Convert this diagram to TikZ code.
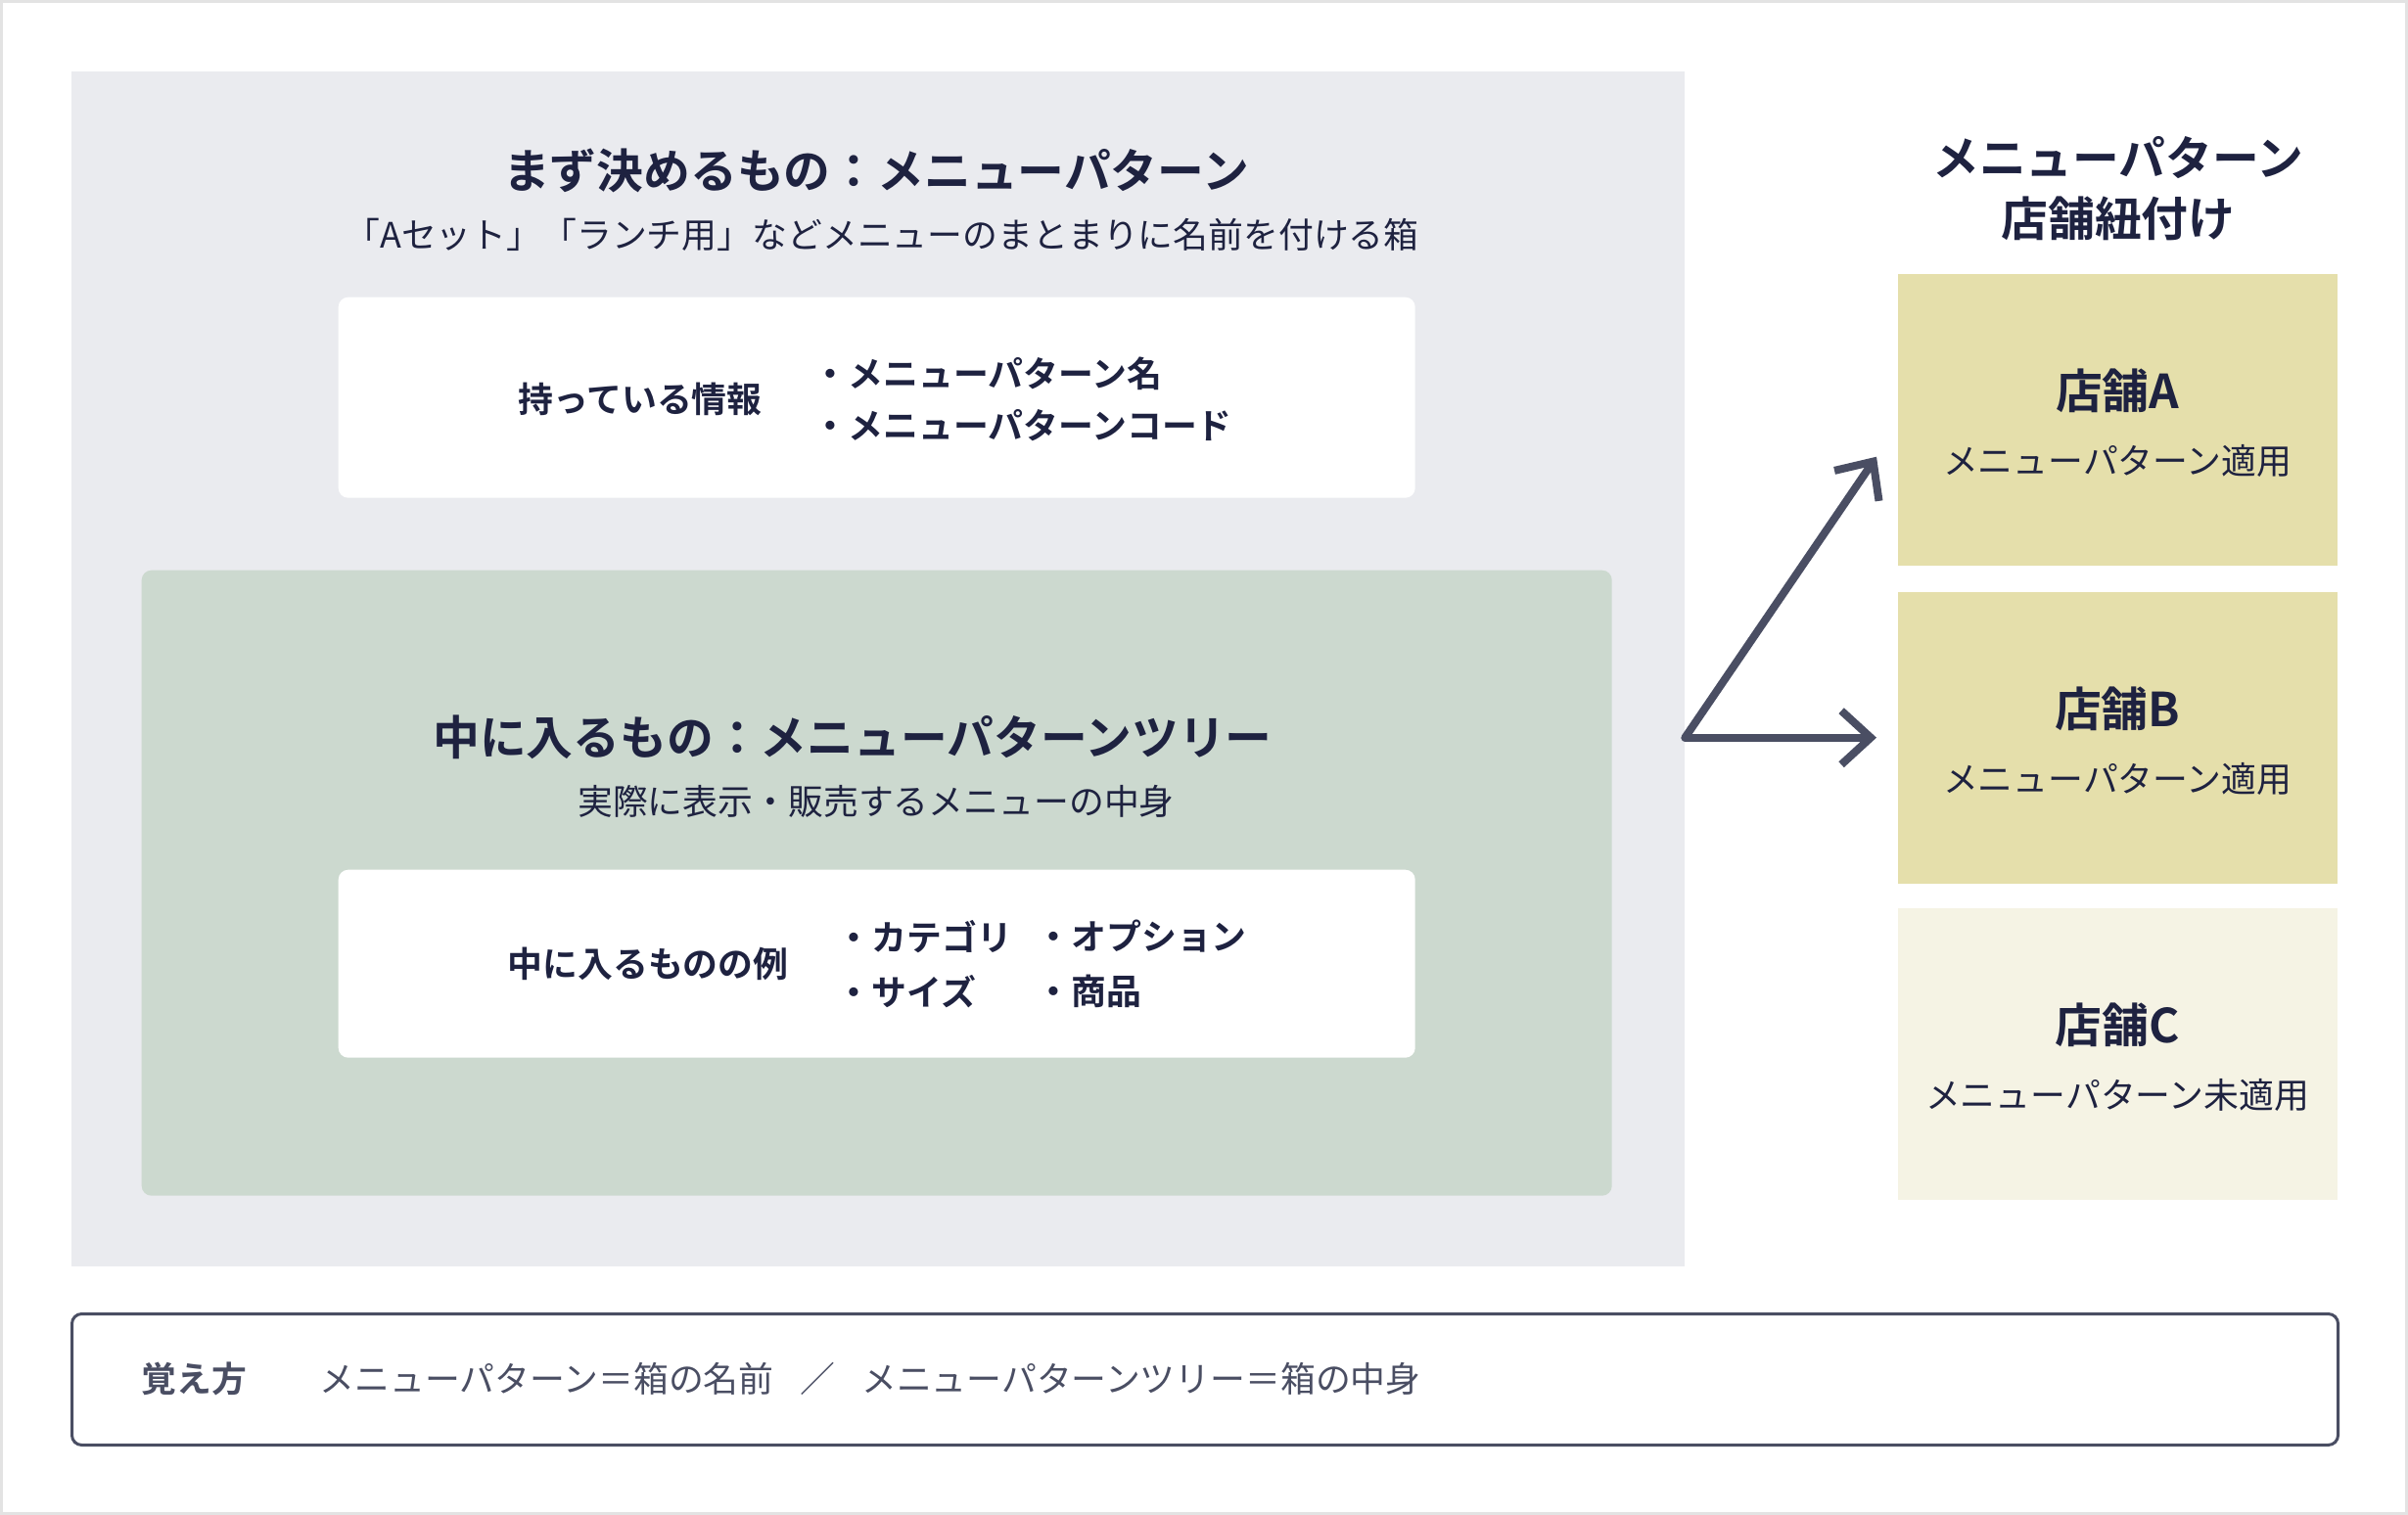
\documentclass[tikz,border=0pt]{standalone}
\usepackage{fontspec}
\setmainfont{Noto Sans CJK JP}[BoldFont={Noto Sans CJK JP Bold}]
\usetikzlibrary{arrows.meta,positioning}
\definecolor{ink}{HTML}{1E2240}
\definecolor{slate}{HTML}{4A4E63}
\definecolor{panelgray}{HTML}{EAEBEF}
\definecolor{treegreen}{HTML}{CCD9CF}
\definecolor{storeon}{HTML}{E5DFAB}
\definecolor{storeoff}{HTML}{F5F3E4}
\definecolor{frame}{HTML}{E3E3E3}
\tikzstyle{panel}=[fill=panelgray,inner sep=0pt,anchor=north west]
\tikzstyle{card}=[fill=white,rounded corners=0.1cm,inner sep=0pt,anchor=north west]
\tikzstyle{store}=[inner sep=0pt,anchor=north west,minimum width=4.49cm,minimum height=2.98cm]
\tikzstyle{heading}=[font=\fontsize{13.6}{17.6}\selectfont\bfseries,text=ink,inner sep=0pt]
\tikzstyle{subtext}=[font=\fontsize{10.2}{12}\selectfont,text=ink,inner sep=0pt]
\tikzstyle{infotext}=[font=\fontsize{10.2}{15.2}\selectfont\bfseries,text=ink,inner sep=0pt]
\tikzstyle{conn}=[draw=slate,line width=0.08cm,line cap=round,line join=round,-{Straight Barb[length=0.3cm,width=0.55cm]}]

\begin{document}
\begin{tikzpicture}
    \useasboundingbox (0,0) rectangle (24.6,-15.48);
    \draw[frame,line width=0.03cm] (0.015,-0.015) rectangle (24.585,-15.465);
    % Left side: the menu pattern and its tree
    \node[panel,minimum width=16.48cm,minimum height=12.21cm] (pattern) at (0.72,-0.72) {};
    \node[heading] (patterntitle) at (8.95,-1.74) {まず決めるもの：メニューパターン};
    \node[subtext] (patternsub) at (9.01,-2.40) {「Aセット」「ランチ用」などメニューのまとまりに名前を付ける箱};
    \node[card,minimum width=11.0cm,minimum height=2.05cm] (info) at (3.45,-3.03) {};
    \node[infotext] (infohead) at (6.54,-4.08) {持っている情報};
    \node[infotext,anchor=west,align=left] (infolist) at (8.30,-4.08) {・メニューパターン名\\・メニューパターンコード};
    \node[panel,fill=treegreen,rounded corners=0.1cm,minimum width=15.02cm,minimum height=6.39cm] (tree) at (1.44,-5.82) {};
    \node[heading] (treetitle) at (8.71,-7.53) {中に入るもの：メニューパターンツリー};
    \node[subtext] (treesub) at (8.95,-8.19) {実際に表示・販売するメニューの中身};
    \node[card,minimum width=11.0cm,minimum height=1.92cm] (examples) at (3.45,-8.88) {};
    \node[infotext] (examplehead) at (6.62,-9.85) {中に入るものの例};
    \node[infotext,font=\fontsize{10.2}{16}\selectfont\bfseries,anchor=west,align=left] (examplesA) at (8.54,-9.85) {・カテゴリ\\・サイズ};
    \node[infotext,font=\fontsize{10.2}{16}\selectfont\bfseries,anchor=west,align=left] (examplesB) at (10.58,-9.85) {・オプション\\・商品};
    % Right side: stores linked to the pattern
    \node[heading,align=center] (storehead) at (21.64,-1.93) {メニューパターン\\店舗紐付け};
    \foreach \name/\top/\col/\note in {A/2.79/storeon/適用, B/6.04/storeon/適用, C/9.27/storeoff/未適用} {
        \node[store,fill=\col] (store\name) at (19.38,-\top) {};
        \node[heading] (store\name title) at ([yshift=-1.20cm]store\name.north) {店舗\name};
        \node[subtext] (store\name note) at ([yshift=-1.92cm]store\name.north) {メニューパターン\note};
    }
    % Arrows from the pattern panel
    \coordinate (fork) at (pattern.east |- storeB.west);
    \draw[conn] (fork) -- ([shift={(-0.21,-0.38)}]storeA.west);
    \draw[conn] (fork) -- ([xshift=-0.21cm]storeB.west);
    % Memo line at the bottom
    \node[draw=slate,line width=0.03cm,rounded corners=0.1cm,inner sep=0pt,anchor=north west,minimum width=23.15cm,minimum height=1.34cm] (memo) at (0.72,-13.41) {};
    \node[font=\fontsize{10.2}{12}\selectfont\bfseries,text=slate,inner sep=0pt,anchor=west] (memohead) at (1.44,-14.09) {覚え方};
    \node[font=\fontsize{10.2}{12}\selectfont,text=slate,inner sep=0pt,anchor=west] (memotext) at (3.26,-14.09) {メニューパターン＝箱の名前\hspace{0.75em}／\hspace{0.75em}メニューパターンツリー＝箱の中身};
\end{tikzpicture}
\end{document}
